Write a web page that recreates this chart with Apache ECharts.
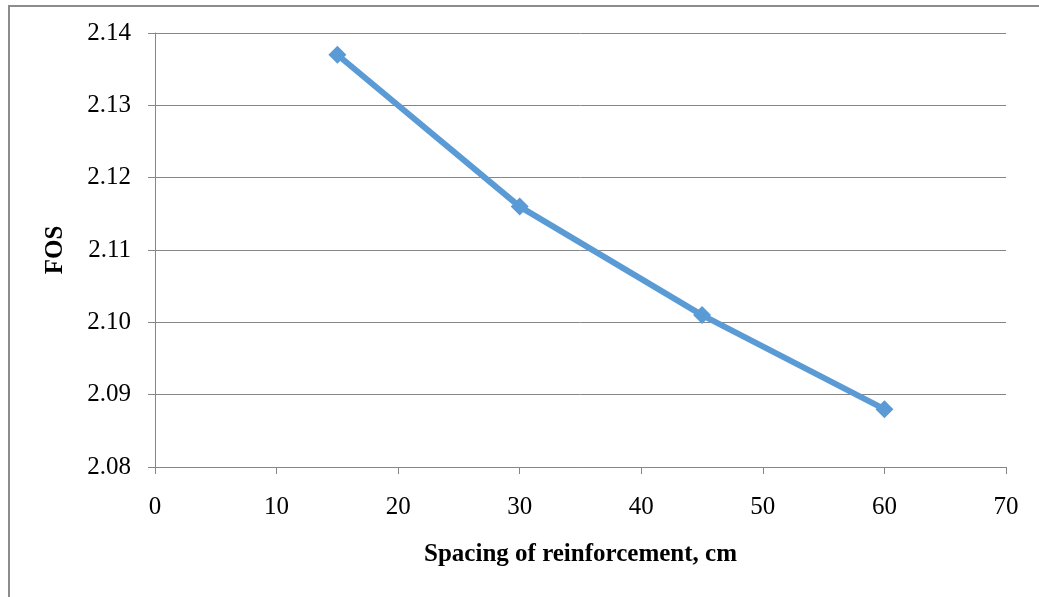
<!DOCTYPE html>
<html>
<head>
<meta charset="utf-8">
<script src="https://cdn.jsdelivr.net/npm/echarts@6/dist/echarts.min.js"></script>
<style>
  html, body { margin: 0; padding: 0; background: #fff; }
  #chart { width: 1039px; height: 597px; }
</style>
</head>
<body>
<div id="chart"></div>
<script>
// Spacing of reinforcement (cm) vs factor of safety
const spacing = [15, 30, 45, 60];
const fos = [2.137, 2.116, 2.101, 2.088];
const xTitle = 'Spacing of reinforcement, cm';
const yTitle = 'FOS';

const points = spacing.map((s, i) => [s, fos[i]]);
const axisGray = '#868686';
const font = '"Liberation Serif", "Times New Roman", serif';

const chart = echarts.init(document.getElementById('chart'), null, { renderer: 'canvas' });
chart.setOption({
  backgroundColor: '#ffffff',
  animation: false,
  graphic: [{
    type: 'rect',
    shape: { x: 9, y: 6, width: 1100, height: 700 },
    style: { fill: 'none', stroke: '#8c8c8c', lineWidth: 2 },
    silent: true
  }],
  grid: { left: 155, right: 33, top: 33, bottom: 130, containLabel: false },
  xAxis: {
    type: 'value',
    min: 0, max: 70, interval: 10,
    name: xTitle,
    nameLocation: 'middle',
    nameGap: 75,
    nameTextStyle: { fontFamily: font, fontSize: 25, fontWeight: 'bold', color: '#000' },
    axisLine: { show: true, lineStyle: { color: axisGray, width: 1 } },
    axisTick: { show: true, inside: false, length: 7, lineStyle: { color: axisGray } },
    axisLabel: { fontFamily: font, fontSize: 25, color: '#000', margin: 28 },
    splitLine: { show: false }
  },
  yAxis: {
    type: 'value',
    min: 2.08, max: 2.14, interval: 0.01,
    name: yTitle,
    nameLocation: 'middle',
    nameGap: 87,
    nameRotate: 90,
    nameTextStyle: { fontFamily: font, fontSize: 25, fontWeight: 'bold', color: '#000' },
    axisLine: { show: true, lineStyle: { color: axisGray, width: 1 } },
    axisTick: { show: true, inside: false, length: 7, lineStyle: { color: axisGray } },
    axisLabel: {
      fontFamily: font, fontSize: 25, color: '#000', margin: 24,
      formatter: v => v.toFixed(2)
    },
    splitLine: { show: true, lineStyle: { color: axisGray, width: 1 } }
  },
  series: [{
    type: 'line',
    data: points,
    symbol: 'diamond',
    symbolSize: 18,
    lineStyle: { color: '#5B9BD5', width: 6 },
    itemStyle: { color: '#5B9BD5' }
  }]
});
</script>
</body>
</html>
